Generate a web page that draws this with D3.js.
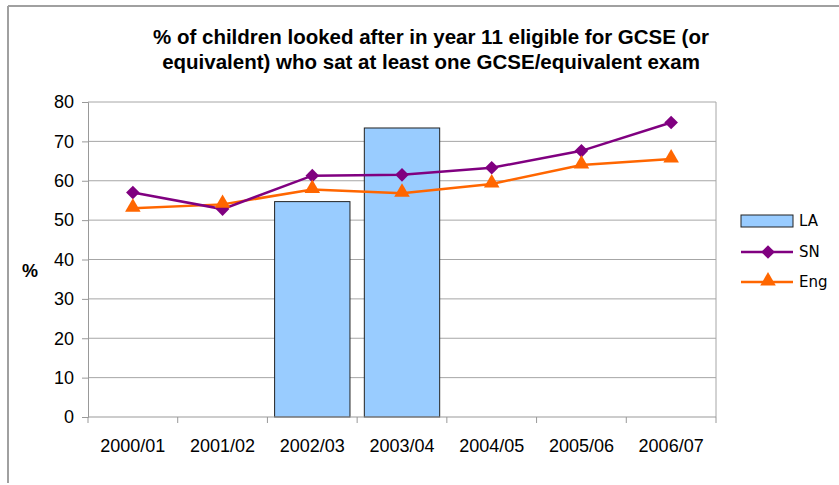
<!DOCTYPE html>
<html>
<head>
<meta charset="utf-8">
<script src="https://cdn.jsdelivr.net/npm/d3@7"></script>
<style>
  body { margin: 0; background: #fff; }
  svg { display: block; }
</style>
</head>
<body>
<div id="chart"></div>
<script>
// data
const categories = ['2000/01', '2001/02', '2002/03', '2003/04', '2004/05', '2005/06', '2006/07'];
const laValues = [null, null, 54.7, 73.4, null, null, null];
const snValues = [57.0, 52.8, 61.3, 61.5, 63.3, 67.6, 74.8];
const engValues = [53.0, 54.0, 57.8, 56.8, 59.2, 64.0, 65.5];
const yTicks = [0, 10, 20, 30, 40, 50, 60, 70, 80];

const W = 839, H = 485;
const margin = { left: 88, right: 123, top: 102, bottom: 68 };
const axFont = 'Liberation Sans, Arial, sans-serif';

const svg = d3.select('#chart').append('svg')
    .attr('width', W)
    .attr('height', H);

// outer chart border (left + top only, rest runs off the picture)
svg.append('line').attr('x1', 8).attr('x2', 8).attr('y1', 6).attr('y2', 483)
    .attr('stroke', '#a0a0a0').attr('stroke-width', 2);
svg.append('line').attr('x1', 8).attr('x2', W).attr('y1', 6).attr('y2', 6)
    .attr('stroke', '#a0a0a0').attr('stroke-width', 2);

const x = d3.scaleBand()
    .domain(categories)
    .range([margin.left, W - margin.right])
    .paddingInner(0.16)
    .paddingOuter(0.08);

const xPt = d3.scalePoint()
    .domain(categories)
    .range([margin.left, W - margin.right])
    .padding(0.5);

const y = d3.scaleLinear()
    .domain([0, 80])
    .range([H - margin.bottom, margin.top]);

// gridlines
svg.append('g')
    .selectAll('line')
    .data(yTicks.slice(1))
    .join('line')
    .attr('x1', margin.left)
    .attr('x2', W - margin.right)
    .attr('y1', d => y(d))
    .attr('y2', d => y(d))
    .attr('stroke', '#a6a6a6')
    .attr('stroke-width', 1);

// right frame of plot area
svg.append('line')
    .attr('x1', W - margin.right).attr('x2', W - margin.right)
    .attr('y1', y(80)).attr('y2', y(0))
    .attr('stroke', '#a6a6a6');

// bars
svg.append('g')
    .selectAll('rect')
    .data(categories.map((c, i) => ({ c, v: laValues[i] })).filter(d => d.v != null))
    .join('rect')
    .attr('x', d => x(d.c))
    .attr('width', x.bandwidth())
    .attr('y', d => y(d.v))
    .attr('height', d => y(0) - y(d.v))
    .attr('fill', '#99ccff')
    .attr('stroke', '#222')
    .attr('stroke-width', 1);

// y axis
const yAxis = svg.append('g')
    .attr('transform', `translate(${margin.left},0)`)
    .call(d3.axisLeft(y).tickValues(yTicks).tickSize(6).tickPadding(8));
yAxis.select('.domain').attr('stroke', '#999');
yAxis.selectAll('.tick line').attr('stroke', '#999');
yAxis.selectAll('text')
    .attr('font-family', axFont)
    .attr('font-size', 18)
    .attr('fill', '#000');

// x axis with ticks at category boundaries
const step = (W - margin.right - margin.left) / categories.length;
const xAxis = svg.append('g')
    .attr('transform', `translate(0,${y(0)})`);
xAxis.append('line')
    .attr('x1', margin.left).attr('x2', W - margin.right)
    .attr('stroke', '#999');
xAxis.selectAll('.bt')
    .data(d3.range(categories.length + 1))
    .join('line')
    .attr('class', 'bt')
    .attr('x1', i => margin.left + i * step)
    .attr('x2', i => margin.left + i * step)
    .attr('y1', 0).attr('y2', 6)
    .attr('stroke', '#999');
xAxis.selectAll('text')
    .data(categories)
    .join('text')
    .attr('x', d => xPt(d))
    .attr('y', 35)
    .attr('text-anchor', 'middle')
    .attr('font-family', axFont)
    .attr('font-size', 18)
    .text(d => d);

// lines
const line = d3.line()
    .x(d => xPt(d.c))
    .y(d => y(d.v));

const snData = categories.map((c, i) => ({ c, v: snValues[i] }));
const engData = categories.map((c, i) => ({ c, v: engValues[i] }));

svg.append('path').datum(engData)
    .attr('d', line).attr('fill', 'none')
    .attr('stroke', '#ff6600').attr('stroke-width', 2.5);
svg.append('path').datum(snData)
    .attr('d', line).attr('fill', 'none')
    .attr('stroke', '#800080').attr('stroke-width', 2.5);

const diamond = d3.symbol().type(d3.symbolDiamond2).size(118);
const triangle = d3.symbol().type(d3.symbolTriangle).size(105);

svg.append('g').selectAll('path')
    .data(snData)
    .join('path')
    .attr('d', diamond)
    .attr('transform', d => `translate(${xPt(d.c)},${y(d.v)})`)
    .attr('fill', '#800080');

svg.append('g').selectAll('path')
    .data(engData)
    .join('path')
    .attr('d', triangle)
    .attr('transform', d => `translate(${xPt(d.c)},${y(d.v) - 1})`)
    .attr('fill', '#ff6600');

// title
const title = svg.append('text')
    .attr('text-anchor', 'middle')
    .attr('font-family', axFont)
    .attr('font-weight', 'bold')
    .attr('font-size', 20.5);
title.append('tspan').attr('x', 431).attr('y', 44)
    .text('% of children looked after in year 11 eligible for GCSE (or');
title.append('tspan').attr('x', 431).attr('y', 69)
    .text('equivalent) who sat at least one GCSE/equivalent exam');

// y axis title
svg.append('text')
    .attr('x', 30).attr('y', 277)
    .attr('text-anchor', 'middle')
    .attr('font-family', axFont)
    .attr('font-weight', 'bold')
    .attr('font-size', 18)
    .text('%');

// legend
const legend = svg.append('g').attr('transform', 'translate(741,0)');
const legFont = 'DejaVu Sans, Verdana, sans-serif';
legend.append('rect')
    .attr('x', 0).attr('y', 215).attr('width', 52).attr('height', 12)
    .attr('fill', '#99ccff').attr('stroke', '#222');
legend.append('text').attr('x', 58).attr('y', 226)
    .attr('font-family', legFont).attr('font-size', 15).text('LA');

legend.append('line').attr('x1', 0).attr('x2', 52).attr('y1', 252).attr('y2', 252)
    .attr('stroke', '#800080').attr('stroke-width', 2.5);
legend.append('path').attr('d', diamond)
    .attr('transform', 'translate(27,252)').attr('fill', '#800080');
legend.append('text').attr('x', 58).attr('y', 257)
    .attr('font-family', legFont).attr('font-size', 15).text('SN');

legend.append('line').attr('x1', 0).attr('x2', 52).attr('y1', 282).attr('y2', 282)
    .attr('stroke', '#ff6600').attr('stroke-width', 2.5);
legend.append('path').attr('d', triangle)
    .attr('transform', 'translate(27,281)').attr('fill', '#ff6600');
legend.append('text').attr('x', 58).attr('y', 287)
    .attr('font-family', legFont).attr('font-size', 15).text('Eng');
</script>
</body>
</html>
